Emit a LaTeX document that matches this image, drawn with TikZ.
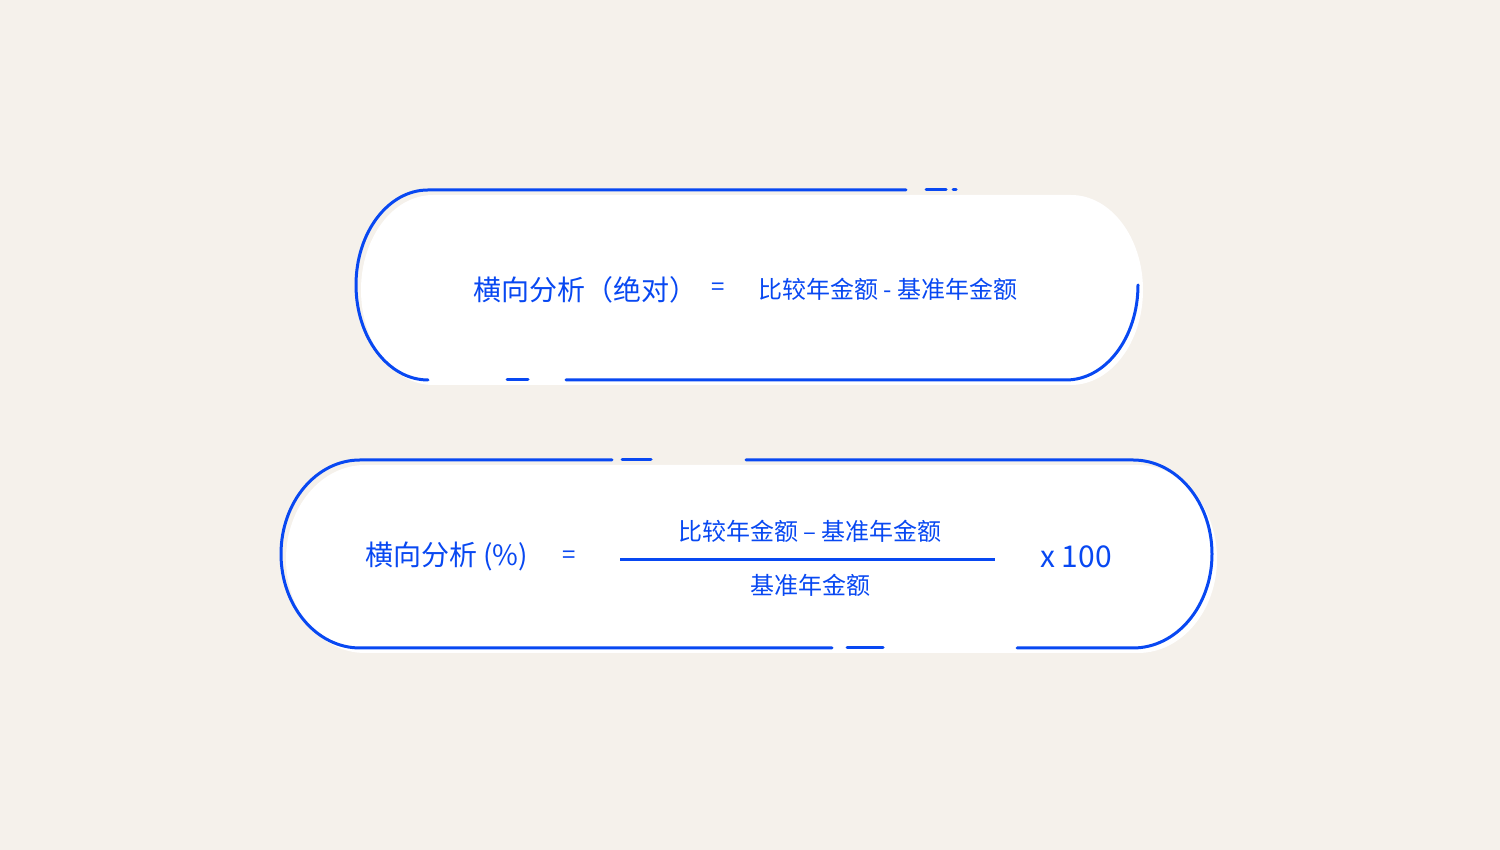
\documentclass[tikz,border=0pt]{standalone}
\usepackage{fontspec}
\usepackage{tikz}
\usetikzlibrary{positioning}
\newfontfamily\cjk{Noto Sans CJK SC}
\definecolor{bgbeige}{RGB}{245,241,235}
\definecolor{lineblue}{RGB}{8,72,242}
\tikzstyle{outline} = [draw=lineblue, line width=3pt, line cap=round]
\tikzstyle{pillfill} = [fill=white]
\tikzstyle{bigtext} = [inner sep=0pt, text=lineblue, font=\cjk\fontsize{28}{31}\selectfont]
\tikzstyle{smalltext} = [inner sep=0pt, text=lineblue, font=\cjk\fontsize{24}{27}\selectfont]

\begin{document}
\begin{tikzpicture}[x=1pt, y=1pt]
      \fill[bgbeige] (0,0) rectangle (1500,850);

      % top pill: absolute
      \fill[pillfill] (433,655) -- (1071,655) arc (90:-90:72 and 95) -- (433,465) arc (270:90:72 and 95) -- cycle;
      \draw[outline] (906,660) -- (428,660) arc (90:270:72 and 95);
      \draw[outline] (507,470) -- (528,470);
      \draw[outline] (566,470) -- (1066,470) arc (270:360:72 and 95);
      \draw[outline] (926,660) -- (946,660);
      \draw[outline] (953,660) -- (956,660);

      \node (absname) [bigtext,   anchor=west] at (473,560) {横向分析（绝对）};
      \node (abseq)   [smalltext]              at (718,561) {=};
      \node (absdiff) [smalltext, anchor=west] at (758,561) {比较年金额 - 基准年金额};

      % bottom pill: percent
      \fill[pillfill] (365,385) -- (1138,385) arc (90:-90:79 and 94) -- (365,197) arc (270:90:79 and 94) -- cycle;
      \draw[outline] (612,390) -- (360,390) arc (90:270:79 and 94) -- (832,202);
      \draw[outline] (622,390) -- (651,390);
      \draw[outline] (746,390) -- (1133,390) arc (90:-90:79 and 94) -- (1017,202);
      \draw[outline] (847,202) -- (883,202);

      \node (pctname) [bigtext,   anchor=west] at (365,294) {横向分析 (\%)};
      \node (pcteq)   [smalltext]              at (569,293) {=};
      \coordinate (fracL) at (620,290);
      \coordinate (fracR) at (995,290);
      \draw[draw=lineblue, line width=3pt] (fracL) -- (fracR);
      \node (pctnum)  [smalltext] at (810,319) {比较年金额 – 基准年金额};
      \node (pctden)  [smalltext] at (810,265) {基准年金额};
      \node (pcttimes)[bigtext,   anchor=west, font=\cjk\fontsize{30}{33}\selectfont] at (1040,293) {x 100};
\end{tikzpicture}
\end{document}
